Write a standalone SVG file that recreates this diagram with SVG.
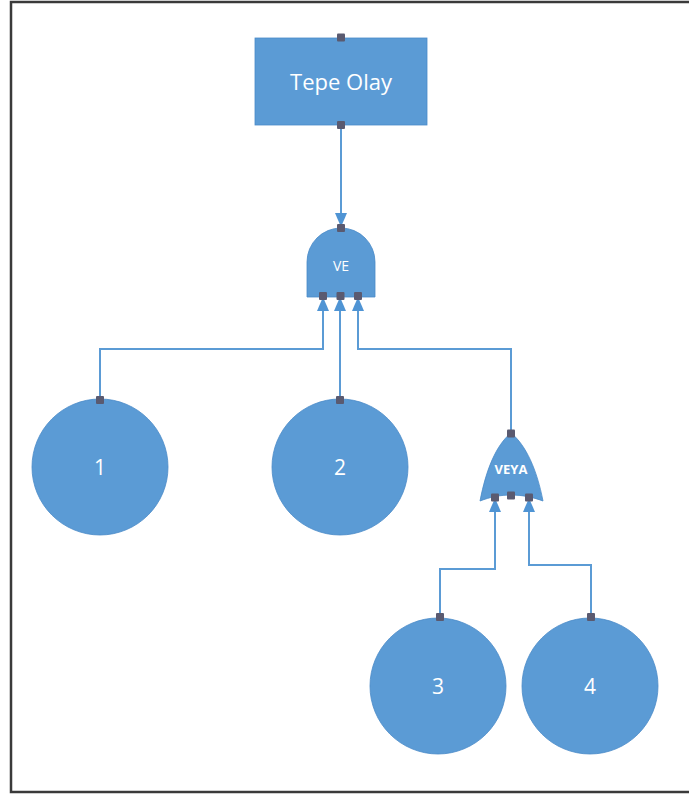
<svg xmlns="http://www.w3.org/2000/svg" width="689" height="796" viewBox="0 0 689 796">
  <style>
    .shape { fill: #5b9bd5; stroke: #4a8ac8; stroke-width: 0.8; }
    .wire { fill: none; stroke: #5b9bd5; stroke-width: 2; }
    .port { fill: #5a5a70; }
    .lbl { fill: #ffffff; font-family: "Open Sans", "Liberation Sans", sans-serif; text-anchor: middle; dominant-baseline: central; }
  </style>
  <defs>
    <marker id="arrow" viewBox="0 0 14 12" refX="13" refY="6" markerWidth="14" markerHeight="12" markerUnits="userSpaceOnUse" orient="auto">
      <path d="M0,0 L14,6 L0,12 Z" fill="#4f94d4"/>
    </marker>
  </defs>

  <rect width="689" height="796" fill="#ffffff"/>
  <!-- page frame -->
  <rect x="11" y="2" width="700" height="790" fill="none" stroke="#3a3a3a" stroke-width="2.5"/>

  <!-- connectors -->
  <g id="connectors">
    <path class="wire" d="M341,126 L341,226" marker-end="url(#arrow)"/>
    <path class="wire" d="M100,400 L100,349 L323,349 L323,298" marker-end="url(#arrow)"/>
    <path class="wire" d="M340,400 L340,298" marker-end="url(#arrow)"/>
    <path class="wire" d="M511,434 L511,349 L358,349 L358,298" marker-end="url(#arrow)"/>
    <path class="wire" d="M440,617 L440,569 L495,569 L495,499" marker-end="url(#arrow)"/>
    <path class="wire" d="M591,617 L591,565 L529,565 L529,499" marker-end="url(#arrow)"/>
  </g>

  <!-- top event -->
  <g id="tepe-olay">
    <rect class="shape" x="255" y="38" width="172" height="87"/>
    <text class="lbl" x="341" y="81" font-size="22">Tepe Olay</text>
    <rect class="port" x="337" y="33.5" width="8" height="8" rx="1"/>
    <rect class="port" x="337" y="121" width="8" height="8" rx="1"/>
  </g>

  <!-- AND gate -->
  <g id="ve">
    <path class="shape" d="M307,297 L307,262 A34,34 0 0 1 375,262 L375,297 Z"/>
    <text class="lbl" x="341" y="265" font-size="14">VE</text>
    <rect class="port" x="337" y="224" width="8" height="8" rx="1"/>
    <rect class="port" x="319" y="292" width="8" height="8" rx="1"/>
    <rect class="port" x="336.5" y="292" width="8" height="8" rx="1"/>
    <rect class="port" x="354" y="292" width="8" height="8" rx="1"/>
  </g>

  <!-- OR gate -->
  <g id="veya">
    <path class="shape" d="M480,501 C486,470 496,445 511,433 C526,445 537,470 543,501 C522,493 500,493 480,501 Z"/>
    <text class="lbl" x="511" y="469" font-size="13" font-weight="bold">VEYA</text>
    <rect class="port" x="507" y="429.5" width="8" height="8" rx="1"/>
    <rect class="port" x="491" y="493.5" width="8" height="8" rx="1"/>
    <rect class="port" x="507" y="491.5" width="8" height="8" rx="1"/>
    <rect class="port" x="525" y="493.5" width="8" height="8" rx="1"/>
  </g>

  <!-- basic events -->
  <g id="olay-1">
    <circle class="shape" cx="100" cy="467" r="68"/>
    <text class="lbl" x="100" y="467" font-size="21">1</text>
    <rect class="port" x="96" y="396" width="8" height="8" rx="1"/>
  </g>
  <g id="olay-2">
    <circle class="shape" cx="340" cy="467" r="68"/>
    <text class="lbl" x="340" y="467" font-size="21">2</text>
    <rect class="port" x="336" y="396" width="8" height="8" rx="1"/>
  </g>
  <g id="olay-3">
    <circle class="shape" cx="438" cy="686" r="68"/>
    <text class="lbl" x="438" y="686" font-size="21">3</text>
    <rect class="port" x="436" y="613" width="8" height="8" rx="1"/>
  </g>
  <g id="olay-4">
    <circle class="shape" cx="590" cy="686" r="68"/>
    <text class="lbl" x="590" y="686" font-size="21">4</text>
    <rect class="port" x="587" y="613" width="8" height="8" rx="1"/>
  </g>
</svg>
